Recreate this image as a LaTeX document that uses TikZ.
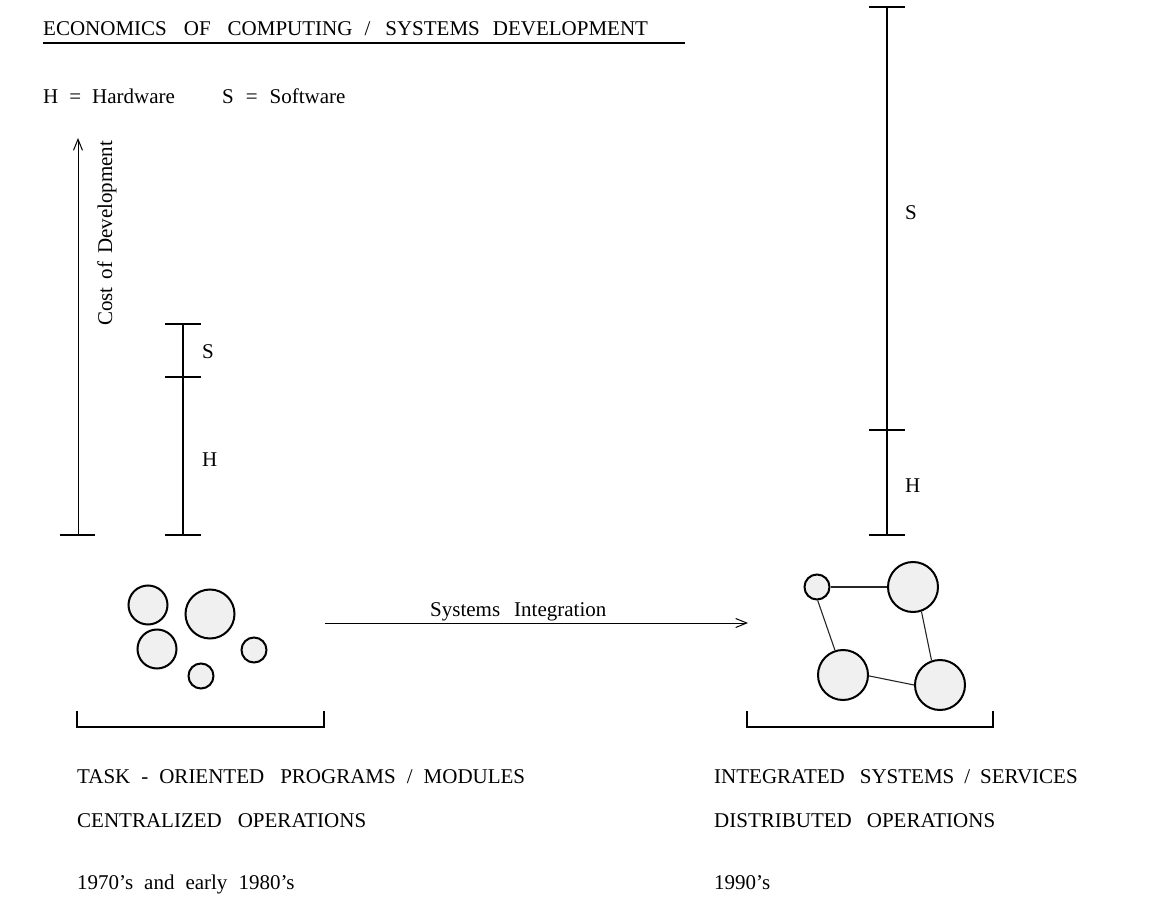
\documentclass[tikz,border=0pt]{standalone}
\usepackage{fontspec}
\setmainfont{Liberation Serif}
\usetikzlibrary{arrows.meta}
\definecolor{modfill}{HTML}{F0F0F0}
\newcommand\wsp[1]{\hspace{#1pt}}
\begin{document}
\begin{tikzpicture}[x=1pt,y=-1pt,
  txt/.style={anchor=base west, inner sep=0pt, font=\fontsize{21}{25}\selectfont},
  bar/.style={line width=2pt},
  thinarrow/.style={line width=1pt, -{Straight Barb[length=11pt,width=9pt,line width=1pt]}},
  module/.style={circle, draw, line width=2pt, fill=modfill, inner sep=0pt, minimum size=#1},
  link/.style={line width=1.1pt, draw=black!85}]
\useasboundingbox (0,0) rectangle (1160,901);

% heading and legend
\node[txt] (title) at (43,36) {ECONOMICS\wsp{17}OF\wsp{17}COMPUTING\wsp{12}/\wsp{15}SYSTEMS\wsp{13}DEVELOPMENT};
\coordinate (ulA) at (43,43);
\coordinate (ulB) at (685,43);
\draw[bar] (ulA) -- (ulB);
\node[txt] (legH) at (43,104) {H\wsp{11}=\wsp{11}Hardware};
\node[txt] (legS) at (222,104) {S\wsp{12}=\wsp{12}Software};

% cost axis
\coordinate (axisBot) at (78,535);
\coordinate (axisTop) at (78,138);
\coordinate (axisTickL) at (60,535);
\coordinate (axisTickR) at (95,535);
\draw[bar] (axisTickL) -- (axisTickR);
\draw[thinarrow] (axisBot) -- (axisTop);
\node[txt, rotate=90] (costlbl) at (112,326) {Cost\wsp{8}of\wsp{8}Development};

% early cost bar
\coordinate (lBot) at (183,535);
\coordinate (lMid) at (183,377);
\coordinate (lTop) at (183,324);
\draw[bar] (lBot) -- (lTop);
\foreach \c in {lBot,lMid,lTop}
  \draw[bar] ([xshift=-18pt]\c) -- ([xshift=18pt]\c);
\node[txt] (lS) at (202,359) {S};
\node[txt] (lH) at (202,466) {H};

% later cost bar
\coordinate (rBot) at (887,535);
\coordinate (rMid) at (887,430);
\coordinate (rTop) at (887,7);
\draw[bar] (rBot) -- (rTop);
\foreach \c in {rBot,rMid,rTop}
  \draw[bar] ([xshift=-18pt]\c) -- ([xshift=18pt]\c);
\node[txt] (rS) at (905,220) {S};
\node[txt] (rH) at (905,492) {H};

% separate modules
\node[module=39pt] (m1) at (148,605) {};
\node[module=49pt] (m2) at (210,614) {};
\node[module=39pt] (m3) at (157,649) {};
\node[module=25pt] (m4) at (254,650) {};
\node[module=25pt] (m5) at (201,676) {};

% integration arrow
\coordinate (intA) at (325,623);
\coordinate (intB) at (748,623);
\draw[thinarrow] (intA) -- (intB);
\node[txt] (intlbl) at (430,616) {Systems\wsp{14}Integration};

% connected modules
\node[module=25pt] (n1) at (817,587) {};
\node[module=50pt] (n2) at (913,587) {};
\node[module=50pt] (n3) at (843,675) {};
\node[module=50pt] (n4) at (940,685) {};
\draw[link] (n1.0) -- (n2.180);
\draw[link] (n1.-87) -- (n3.108);
\draw[link] (n2.-71) -- (n4.109);
\draw[link] (n3.-2) -- (n4.180);

% brackets
\coordinate (bl1) at (77,711);
\coordinate (bl2) at (324,711);
\draw[bar] (bl1) -- ++(0,16) -| (bl2);
\coordinate (br1) at (747,711);
\coordinate (br2) at (993,711);
\draw[bar] (br1) -- ++(0,16) -| (br2);

% captions
\node[txt] (capL1) at (77,783) {TASK\wsp{11}-\wsp{11}ORIENTED\wsp{16}PROGRAMS\wsp{11}/\wsp{11}MODULES};
\node[txt] (capL2) at (77,827) {CENTRALIZED\wsp{16}OPERATIONS};
\node[txt] (capL3) at (77,889) {1970's\wsp{11}and\wsp{11}early\wsp{11}1980's};
\node[txt] (capR1) at (714,783) {INTEGRATED\wsp{15}SYSTEMS\wsp{10}/\wsp{10}SERVICES};
\node[txt] (capR2) at (714,827) {DISTRIBUTED\wsp{15}OPERATIONS};
\node[txt] (capR3) at (714,889) {1990's};
\end{tikzpicture}
\end{document}
